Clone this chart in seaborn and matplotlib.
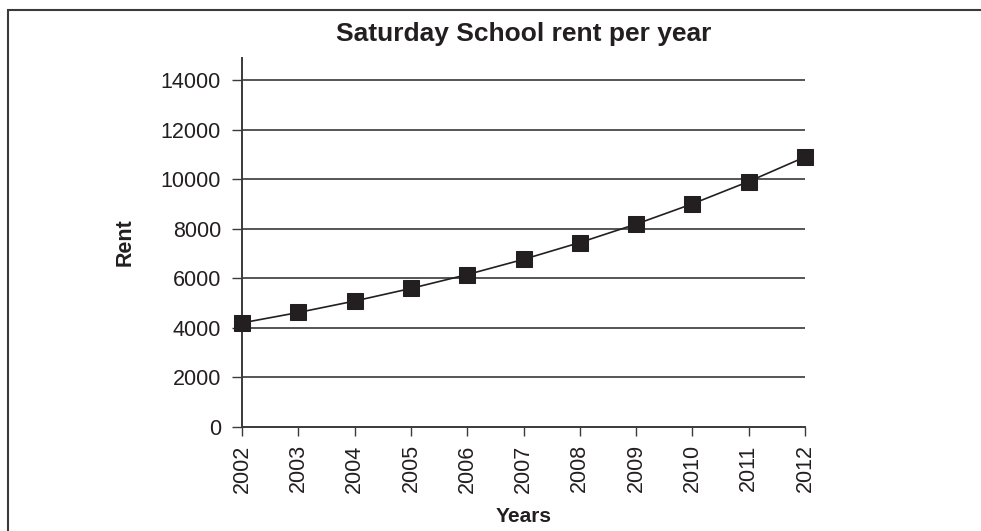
import matplotlib
matplotlib.use("Agg")
import matplotlib.pyplot as plt
import seaborn as sns
import pandas as pd
from matplotlib.patches import Rectangle

# data
years = [2002, 2003, 2004, 2005, 2006, 2007, 2008, 2009, 2010, 2011, 2012]
rent = [4200, 4620, 5082, 5590, 6149, 6764, 7441, 8185, 9003, 9904, 10894]
y_ticks = [0, 2000, 4000, 6000, 8000, 10000, 12000, 14000]

df = pd.DataFrame({"Years": years, "Rent": rent})

sns.set_style("white")
plt.rcParams["font.family"] = ["Liberation Sans", "DejaVu Sans"]

fig = plt.figure(figsize=(9.81, 5.31), dpi=100)
ax = fig.add_axes([242 / 981, 1 - 427 / 531, (805 - 242) / 981, (427 - 57.7) / 531])

# frame around the figure (only top and left edges visible in reference)
fig.patches.append(Rectangle((8 / 981, -0.1), 1.2, 1 - 10 / 531 + 0.1,
                             transform=fig.transFigure, fill=False,
                             edgecolor="#3a3a3a", linewidth=1.5))

sns.lineplot(data=df, x="Years", y="Rent", ax=ax, color="#231f20",
             linewidth=1.2, marker="s", markersize=11.5,
             markerfacecolor="#231f20", markeredgecolor="#231f20",
             clip_on=False, zorder=5)

ax.set_xlim(2002, 2012)
ax.set_ylim(0, 14900)
ax.set_yticks(y_ticks)
ax.set_xticks(years)
ax.set_xticklabels([str(y) for y in years], rotation=90)

for v in y_ticks[1:]:
    ax.axhline(v, color="#555555", linewidth=1.4, zorder=1)

for side in ["top", "right"]:
    ax.spines[side].set_visible(False)
for side in ["left", "bottom"]:
    ax.spines[side].set_color("#3a3a3a")
    ax.spines[side].set_linewidth(1.4)

ax.tick_params(axis="y", which="major", direction="out", length=7.2, width=1.0,
               color="#3a3a3a", pad=8, labelsize=15.5, labelcolor="#231f20", left=True)
ax.tick_params(axis="x", which="major", direction="out", length=6.5, width=1.0,
               color="#3a3a3a", pad=6, labelsize=15.5, labelcolor="#231f20", bottom=True)

ax.set_title("Saturday School rent per year", fontsize=19, fontweight="bold",
             color="#231f20", pad=12)
ax.set_xlabel("Years", fontsize=15, fontweight="bold", color="#231f20", labelpad=10)
ax.set_ylabel("Rent", fontsize=15.5, fontweight="bold", color="#231f20", labelpad=18)

fig.savefig("out.png", dpi=100)
